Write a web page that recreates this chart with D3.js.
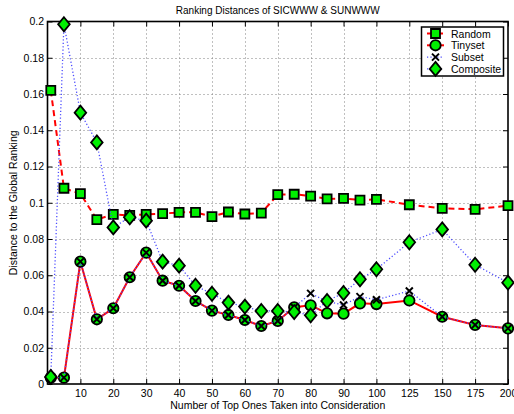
<!DOCTYPE html>
<html>
<head>
<meta charset="utf-8">
<script src="https://cdn.jsdelivr.net/npm/d3@7"></script>
<style>
  body { margin: 0; background: #fff; }
  text { font-family: "Liberation Sans", Arial, Helvetica, sans-serif; fill: #000; }
</style>
</head>
<body>
<div class="chart-box"></div>
<script>
// x positions (number of top ones)
const topN = [1, 5, 10, 15, 20, 25, 30, 35, 40, 45, 50, 55, 60, 65, 70, 75, 80, 85, 90, 95, 100, 125, 150, 175, 200];

const random    = [0.162, 0.108, 0.105, 0.0907, 0.0936, 0.093, 0.0936, 0.094, 0.0947, 0.0947, 0.0924, 0.0949, 0.0938, 0.0943, 0.1045, 0.1047, 0.1037, 0.1021, 0.1024, 0.1015, 0.1019, 0.0989, 0.0969, 0.0964, 0.0984];
const tinyset   = [0.0035, 0.0035, 0.0675, 0.0357, 0.0418, 0.0589, 0.0725, 0.057, 0.0542, 0.0458, 0.0405, 0.0381, 0.0353, 0.032, 0.0348, 0.0423, 0.0434, 0.039, 0.0388, 0.0445, 0.0441, 0.0461, 0.0371, 0.0326, 0.0307];
const subset    = [0.0035, 0.0035, 0.0675, 0.0357, 0.0418, 0.0589, 0.0725, 0.057, 0.0542, 0.0458, 0.0405, 0.0381, 0.0353, 0.032, 0.0348, 0.0423, 0.050, 0.0455, 0.0436, 0.0482, 0.0465, 0.0513, 0.0371, 0.0326, 0.0307];
const composite = [0.0039, 0.1985, 0.1497, 0.1333, 0.0864, 0.092, 0.0901, 0.0675, 0.0653, 0.0542, 0.0498, 0.0449, 0.0427, 0.0403, 0.0403, 0.0397, 0.0379, 0.0458, 0.0502, 0.0578, 0.0633, 0.0782, 0.0853, 0.0658, 0.0559];

const xTicks = [10, 20, 30, 40, 50, 60, 70, 80, 90, 100, 125, 150, 175, 200];
const yTicks = [0, 0.02, 0.04, 0.06, 0.08, 0.1, 0.12, 0.14, 0.16, 0.18, 0.2];

const seriesNames = ["Random", "Tinyset", "Subset", "Composite"];

let width = 514, height = 414;
let mLeft = 47.5, mRight = 508, mTop = 21.5, mBottom = 384;

let svg = d3.select(".chart-box")
  .append("svg")
  .attr("width", width)
  .attr("height", height);

// past 100 the axis is squeezed (25 per grid step)
let x = d3.scaleLinear()
  .domain([0, 100, 200])
  .range([mLeft, mLeft + (mRight - mLeft) * 100 / 140, mRight]);

let y = d3.scaleLinear()
  .domain([0, 0.2])
  .range([mBottom, mTop]);

// grid
let grid = svg.append("g").attr("class", "grid")
  .attr("stroke", "#808080")
  .attr("stroke-width", 1)
  .attr("stroke-dasharray", "1,3");
grid.selectAll(".gx")
  .data(xTicks.filter(d => d < 200))
  .enter().append("line")
  .attr("x1", d => Math.round(x(d)) + 0.5).attr("x2", d => Math.round(x(d)) + 0.5)
  .attr("y1", mTop).attr("y2", mBottom);
grid.selectAll(".gy")
  .data(yTicks.filter(d => d > 0 && d < 0.2))
  .enter().append("line")
  .attr("y1", d => Math.round(y(d)) + 0.5).attr("y2", d => Math.round(y(d)) + 0.5)
  .attr("x1", mLeft).attr("x2", mRight);

// axes, ticks pointing in, on all four sides
let xAxis = d3.axisBottom(x).tickValues(xTicks).tickSizeInner(-5).tickSizeOuter(0).tickPadding(6);
let xAxisTop = d3.axisTop(x).tickValues(xTicks).tickSizeInner(-5).tickSizeOuter(0).tickFormat("");
let yAxis = d3.axisLeft(y).tickValues(yTicks).tickSizeInner(-5).tickSizeOuter(0).tickPadding(3.5)
  .tickFormat(d => d === 0 ? "0" : d3.format("~g")(d));
let yAxisRight = d3.axisRight(y).tickValues(yTicks).tickSizeInner(-5).tickSizeOuter(0).tickFormat("");

svg.append("g").attr("transform", `translate(0,${mBottom})`).call(xAxis);
svg.append("g").attr("transform", `translate(0,${mTop})`).call(xAxisTop);
svg.append("g").attr("transform", `translate(${mLeft},0)`).call(yAxis);
svg.append("g").attr("transform", `translate(${mRight},0)`).call(yAxisRight);

svg.selectAll(".domain").remove();
svg.selectAll(".tick line").attr("stroke", "#000").attr("stroke-width", 1);
svg.selectAll(".tick text").style("font-size", "10.5px").attr("fill", "#000");

// frame
svg.append("rect")
  .attr("x", mLeft).attr("y", mTop)
  .attr("width", mRight - mLeft).attr("height", mBottom - mTop)
  .attr("fill", "none").attr("stroke", "#000").attr("stroke-width", 1.6);

// markers
let green = "#00f000";
let markerPath = {
  square: () => "M-4.5,-4.5H4.5V4.5H-4.5Z",
  circle: () => d3.symbol(d3.symbolCircle, Math.PI * 5.2 * 5.2)(),
  diamond: () => "M0,-7L5.8,0L0,7L-5.8,0Z",
  cross: () => "M-3.5,-3.5L3.5,3.5M-3.5,3.5L3.5,-3.5"
};

let styles = [
  { data: random, color: "red", dash: "6,4", lw: 2, marker: "square" },
  { data: tinyset, color: "red", dash: null, lw: 2, marker: "circle" },
  { data: subset, color: "#4d4dff", dash: "1.2,2.2", lw: 1.3, marker: "cross" },
  { data: composite, color: "#4d4dff", dash: "1.2,2.2", lw: 1.3, marker: "diamond" }
];

let line = d3.line().x((d, i) => x(topN[i])).y(d => y(d));

let drawMarker = function (g, type, cx, cy) {
  let p = g.append("path")
    .attr("d", markerPath[type]())
    .attr("transform", `translate(${cx},${cy})`);
  if (type === "cross") {
    p.attr("fill", "none").attr("stroke", "#000").attr("stroke-width", 2);
  } else {
    p.attr("fill", green).attr("stroke", "#000").attr("stroke-width", 1.8);
  }
};

styles.forEach(function (s) {
  let g = svg.append("g");
  g.append("path")
    .attr("d", line(s.data))
    .attr("fill", "none")
    .attr("stroke", s.color)
    .attr("stroke-width", s.lw)
    .attr("stroke-dasharray", s.dash);
  s.data.forEach(function (v, i) {
    drawMarker(g, s.marker, x(topN[i]), y(v));
  });
});

// title and labels
svg.append("text")
  .attr("x", (mLeft + mRight) / 2).attr("y", 13.5)
  .attr("text-anchor", "middle")
  .style("font-size", "10px")
  .text("Ranking Distances of SICWWW & SUNWWW");

svg.append("text")
  .attr("x", (mLeft + mRight) / 2).attr("y", 409)
  .attr("text-anchor", "middle")
  .style("font-size", "10.5px")
  .text("Number of Top Ones Taken into Consideration");

svg.append("text")
  .attr("transform", `translate(17,${(mTop + mBottom) / 2}) rotate(-90)`)
  .attr("text-anchor", "middle")
  .style("font-size", "10.5px")
  .text("Distance to the Global Ranking");

// legend
let lg = svg.append("g").attr("class", "legend");
lg.append("rect")
  .attr("x", 421.5).attr("y", 27)
  .attr("width", 82).attr("height", 49)
  .attr("fill", "#fff").attr("stroke", "#000").attr("stroke-width", 1.5);

seriesNames.forEach(function (name, i) {
  let s = styles[i];
  let ly = 33.5 + i * 11.8;
  lg.append("line")
    .attr("x1", 427).attr("x2", 444)
    .attr("y1", ly).attr("y2", ly)
    .attr("stroke", s.color).attr("stroke-width", s.lw)
    .attr("stroke-dasharray", s.dash);
  drawMarker(lg, s.marker, 435.5, ly);
  lg.append("text")
    .attr("x", 451).attr("y", ly + 4)
    .style("font-size", "10.5px")
    .text(name);
});
</script>
</body>
</html>
